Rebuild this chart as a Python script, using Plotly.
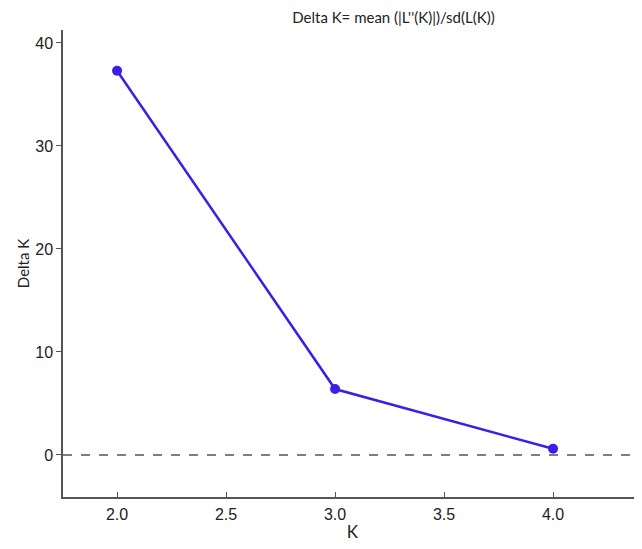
import plotly.graph_objects as go

k_values = [2.0, 3.0, 4.0]
delta_k = [37.3, 6.4, 0.6]
x_ticks = [2.0, 2.5, 3.0, 3.5, 4.0]
y_ticks = [0, 10, 20, 30, 40]

fig = go.Figure()
fig.add_trace(go.Scatter(
    x=k_values, y=delta_k, mode="lines+markers",
    line=dict(color="#3a1fe6", width=2.5),
    marker=dict(color="#3a1fe6", size=10),
    showlegend=False,
))
fig.add_hline(y=0, line=dict(color="#555555", width=1.5, dash="dash"))

fig.update_layout(
    width=634, height=541,
    margin=dict(l=55, r=0, t=22, b=52),
    plot_bgcolor="white", paper_bgcolor="white",
    title=dict(text="Delta K= mean (|L''(K)|)/sd(L(K))", x=0.608, xanchor="center",
               y=0.982, yanchor="middle",
               font=dict(family="Lato, DejaVu Sans", size=15, color="#222222")),
)
fig.update_xaxes(
    range=[1.752, 4.408], tickvals=x_ticks, ticktext=[f"{v:.1f}" for v in x_ticks],
    showline=True, linecolor="#555555", linewidth=1.5, showgrid=False, zeroline=False,
    ticks="inside", ticklen=5, tickcolor="#555555", tickwidth=1.2,
    ticklabelstandoff=2,
    tickfont=dict(family="Liberation Sans, Arial", size=16, color="#222222"),
    title=dict(text="K", font=dict(family="Lato, DejaVu Sans", size=17, color="#222222"), standoff=4),
)
fig.update_yaxes(
    range=[-4.08, 41.26], tickvals=y_ticks,
    showline=True, linecolor="#555555", linewidth=1.5, showgrid=False, zeroline=False,
    ticks="outside", ticklen=5, tickcolor="#555555", tickwidth=1.2,
    tickfont=dict(family="Liberation Sans, Arial", size=16, color="#222222"),
    title=dict(text="Delta K", font=dict(family="Lato, DejaVu Sans", size=15, color="#222222"), standoff=2),
)

fig.write_html("out.html")
